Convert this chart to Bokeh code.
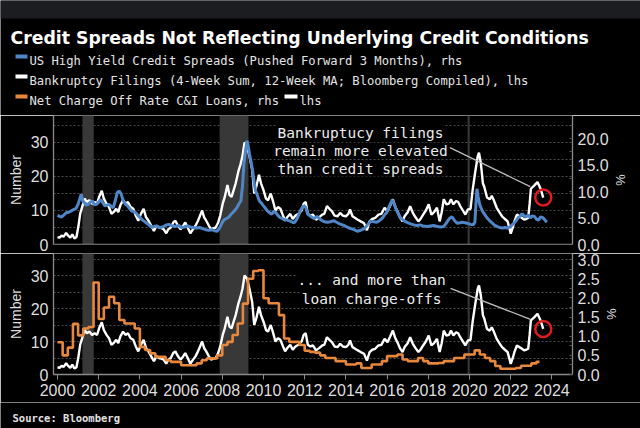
from bokeh.plotting import figure
from bokeh.models import (Range1d, LinearAxis, FixedTicker, Span, Label, BoxAnnotation,
                          Arrow, NumeralTickFormatter)
from bokeh.layouts import column
from bokeh.embed import file_html
from bokeh.resources import INLINE
from bokeh.core.properties import value

# ---------------- texts ----------------
TITLE = "Credit Spreads Not Reflecting Underlying Credit Conditions"
LEGEND_HY = "US High Yield Credit Spreads (Pushed Forward 3 Months), rhs"
LEGEND_BK = "Bankruptcy Filings (4-Week Sum, 12-Week MA; Bloomberg Compiled), lhs"
LEGEND_CO = "Net Charge Off Rate C&I Loans, rhs"
LEGEND_CO_LHS = "lhs"
SOURCE = "Source: Bloomberg"
NOTE_TOP = ["Bankruptucy filings", "remain more elevated", "than credit spreads"]
NOTE_BOTTOM = ["... and more than", "loan charge-offs"]

# ---------------- data ----------------
bk_year = [2000.00, 2000.10, 2000.20, 2000.30, 2000.42, 2000.52, 2000.62, 2000.72, 2000.82, 2000.92,
           2001.02, 2001.10, 2001.22, 2001.32, 2001.42, 2001.55, 2001.68, 2001.80, 2001.92, 2002.02,
           2002.15, 2002.25, 2002.38, 2002.50, 2002.62, 2002.72, 2002.85, 2002.95, 2003.05, 2003.18,
           2003.30, 2003.42, 2003.55, 2003.68, 2003.80, 2003.92, 2004.05, 2004.18, 2004.30, 2004.42,
           2004.55, 2004.68, 2004.80, 2004.92, 2005.05, 2005.15, 2005.28, 2005.38, 2005.50, 2005.62,
           2005.72, 2005.85, 2005.98, 2006.10, 2006.20, 2006.32, 2006.45, 2006.58, 2006.70, 2006.82,
           2006.92, 2007.02, 2007.12, 2007.22, 2007.35, 2007.45, 2007.58, 2007.68, 2007.80, 2007.90,
           2008.02, 2008.12, 2008.25, 2008.35, 2008.45, 2008.55, 2008.65, 2008.78, 2008.88, 2008.98,
           2009.08, 2009.20, 2009.32, 2009.45, 2009.55, 2009.65, 2009.78, 2009.88, 2010.00, 2010.12,
           2010.22, 2010.35, 2010.45, 2010.58, 2010.70, 2010.82, 2010.95, 2011.05, 2011.15, 2011.30,
           2011.42, 2011.55, 2011.70, 2011.85, 2011.95, 2012.05, 2012.15, 2012.28, 2012.40, 2012.55,
           2012.70, 2012.85, 2012.95, 2013.08, 2013.20, 2013.32, 2013.45, 2013.60, 2013.72, 2013.85,
           2014.00, 2014.12, 2014.20, 2014.32, 2014.45, 2014.58, 2014.72, 2014.88, 2015.02, 2015.15,
           2015.28, 2015.42, 2015.58, 2015.72, 2015.88, 2016.02, 2016.15, 2016.28, 2016.38, 2016.52,
           2016.62, 2016.75, 2016.85, 2017.00, 2017.12, 2017.25, 2017.38, 2017.52, 2017.62, 2017.75,
           2017.88, 2018.02, 2018.15, 2018.28, 2018.42, 2018.55, 2018.65, 2018.75, 2018.88, 2019.00,
           2019.10, 2019.22, 2019.35, 2019.45, 2019.55, 2019.68, 2019.80, 2019.92, 2020.05, 2020.15,
           2020.28, 2020.40, 2020.46, 2020.55, 2020.65, 2020.72, 2020.85, 2020.98, 2021.08, 2021.18,
           2021.32, 2021.45, 2021.58, 2021.72, 2021.85, 2021.95, 2022.00, 2022.10, 2022.18, 2022.30,
           2022.42, 2022.55, 2022.65, 2022.75, 2022.85, 2022.92, 2022.98, 2023.15, 2023.30, 2023.45,
           2023.58]
bk_filings = [2.2, 2.0, 2.6, 2.3, 3.4, 2.6, 2.0, 3.0, 1.8, 2.2,
              5.5, 9.0, 11.5, 13.5, 12.5, 13.0, 12.0, 12.5, 12.0, 14.0,
              15.8, 13.5, 12.0, 11.0, 9.0, 9.5, 10.5, 9.5, 11.5, 13.0,
              12.0, 12.5, 11.0, 10.5, 8.5, 7.0, 9.0, 10.5, 8.0, 7.0,
              5.5, 4.0, 5.5, 5.0, 4.8, 4.5, 3.3, 4.5, 5.0, 6.5,
              7.0, 5.5, 4.5, 5.5, 6.5, 5.0, 3.3, 4.5, 5.5, 7.0,
              8.5, 10.0, 8.0, 7.0, 5.5, 4.5, 4.8, 5.0, 6.5, 8.5,
              12.0, 14.0, 17.5, 14.5, 14.0, 16.0, 18.0, 21.5, 23.5, 26.0,
              30.0, 29.0, 26.0, 22.0, 15.0, 17.0, 20.5, 18.0, 16.0, 13.5,
              13.0, 15.0, 13.0, 10.0, 11.0, 10.5, 8.5, 7.0, 8.0, 9.0,
              7.5, 8.5, 9.0, 10.0, 12.0, 12.5, 9.0, 8.5, 8.8, 7.3,
              8.0, 8.8, 9.0, 11.3, 10.5, 9.8, 8.5, 8.3, 9.3, 8.5,
              8.3, 9.0, 10.3, 8.3, 7.8, 7.3, 6.8, 6.3, 4.2, 6.8,
              7.5, 7.8, 8.8, 9.0, 10.8, 9.8, 11.5, 13.3, 11.3, 9.5,
              8.0, 6.8, 8.3, 9.5, 11.3, 9.3, 8.0, 6.8, 7.5, 8.8,
              10.0, 11.8, 8.8, 9.5, 10.8, 6.8, 9.5, 13.3, 11.8, 12.0,
              13.3, 11.8, 12.8, 12.5, 11.3, 10.0, 8.8, 10.3, 10.5, 15.9,
              21.4, 26.0, 27.0, 24.0, 18.0, 16.9, 13.8, 13.3, 14.3, 13.0,
              10.8, 9.5, 8.3, 7.5, 6.8, 4.5, 3.2, 5.0, 6.8, 8.8,
              8.3, 7.8, 7.3, 7.5, 7.8, 12.0, 16.4, 17.4, 18.4, 16.4,
              13.8]

hy_year = [2000.00, 2000.10, 2000.20, 2000.32, 2000.42, 2000.55, 2000.65, 2000.78, 2000.90, 2001.00,
           2001.08, 2001.15, 2001.22, 2001.30, 2001.40, 2001.50, 2001.60, 2001.70, 2001.80, 2001.90,
           2002.00, 2002.10, 2002.20, 2002.30, 2002.40, 2002.50, 2002.60, 2002.70, 2002.80, 2002.90,
           2003.00, 2003.08, 2003.20, 2003.30, 2003.40, 2003.50, 2003.60, 2003.70, 2003.80, 2003.90,
           2004.00, 2004.10, 2004.20, 2004.30, 2004.40, 2004.50, 2004.60, 2004.70, 2004.80, 2004.90,
           2005.00, 2005.10, 2005.20, 2005.30, 2005.40, 2005.50, 2005.60, 2005.70, 2005.80, 2005.90,
           2006.00, 2006.15, 2006.30, 2006.45, 2006.60, 2006.75, 2006.90, 2007.05, 2007.20, 2007.35,
           2007.50, 2007.62, 2007.75, 2007.85, 2007.92, 2008.00, 2008.10, 2008.20, 2008.30, 2008.40,
           2008.50, 2008.60, 2008.70, 2008.80, 2008.90, 2008.98, 2009.05, 2009.12, 2009.20, 2009.26,
           2009.32, 2009.40, 2009.47, 2009.55, 2009.62, 2009.70, 2009.80, 2009.90, 2010.00, 2010.10,
           2010.20, 2010.30, 2010.40, 2010.50, 2010.60, 2010.70, 2010.80, 2010.90, 2011.00, 2011.15,
           2011.30, 2011.40, 2011.50, 2011.62, 2011.75, 2011.85, 2011.95, 2012.05, 2012.15, 2012.30,
           2012.45, 2012.60, 2012.80, 2012.95, 2013.10, 2013.25, 2013.40, 2013.55, 2013.70, 2013.90,
           2014.10, 2014.25, 2014.40, 2014.55, 2014.72, 2014.90, 2015.05, 2015.20, 2015.35, 2015.50,
           2015.62, 2015.75, 2015.88, 2015.98, 2016.10, 2016.25, 2016.35, 2016.45, 2016.55, 2016.65,
           2016.78, 2016.90, 2017.02, 2017.15, 2017.30, 2017.45, 2017.60, 2017.75, 2017.95, 2018.10,
           2018.25, 2018.45, 2018.60, 2018.75, 2018.85, 2018.95, 2019.05, 2019.15, 2019.28, 2019.40,
           2019.55, 2019.65, 2019.78, 2019.90, 2020.05, 2020.18, 2020.26, 2020.32, 2020.36, 2020.42,
           2020.50, 2020.60, 2020.68, 2020.80, 2020.90, 2021.00, 2021.12, 2021.22, 2021.35, 2021.45,
           2021.60, 2021.72, 2021.85, 2021.95, 2022.05, 2022.15, 2022.25, 2022.35, 2022.45, 2022.55,
           2022.65, 2022.75, 2022.85, 2022.95, 2023.05, 2023.15, 2023.25, 2023.35, 2023.45, 2023.55,
           2023.65, 2023.75]
hy_spread = [5.5, 5.3, 5.2, 5.6, 6.0, 6.1, 6.3, 6.6, 6.8, 7.6,
             8.6, 9.5, 8.3, 7.9, 7.4, 7.6, 8.0, 8.2, 7.5, 7.6,
             8.0, 8.5, 7.9, 7.3, 7.4, 7.6, 7.2, 6.9, 8.2, 9.8,
             10.1, 9.6, 8.2, 7.6, 7.3, 6.8, 6.3, 6.2, 6.0, 5.5,
             5.1, 4.7, 4.4, 4.1, 3.8, 3.5, 3.2, 3.4, 3.5, 3.3,
             3.2, 3.3, 3.5, 3.7, 3.8, 3.6, 3.5, 3.4, 3.5, 3.6,
             3.2, 3.3, 3.5, 3.3, 3.2, 3.1, 3.2, 3.0, 2.8, 2.7,
             2.8, 2.6, 2.5, 3.0, 3.5, 4.2, 4.7, 4.9, 5.1, 5.6,
             6.0, 6.4, 6.9, 7.6, 8.2, 11.0, 15.2, 17.5, 19.6, 18.5,
             17.1, 15.5, 14.0, 11.5, 10.1, 9.3, 8.2, 7.8, 7.3, 6.8,
             6.3, 6.0, 5.7, 6.3, 6.0, 5.5, 5.1, 4.9, 4.7, 4.6,
             4.4, 4.2, 4.1, 4.8, 6.0, 6.8, 7.3, 7.0, 5.7, 5.3,
             4.9, 5.3, 4.6, 4.3, 4.2, 4.3, 4.5, 4.2, 3.9, 3.6,
             3.2, 3.0, 2.8, 2.5, 2.7, 3.0, 3.7, 4.4, 4.3, 4.2,
             4.5, 4.9, 5.6, 6.0, 7.2, 8.4, 7.6, 6.5, 5.8, 5.0,
             4.6, 4.3, 4.1, 3.9, 3.7, 3.6, 3.7, 3.5, 3.4, 3.5,
             3.6, 3.4, 3.3, 3.4, 3.9, 4.5, 5.0, 5.2, 4.5, 4.0,
             4.1, 4.2, 4.1, 4.0, 3.8, 3.7, 4.2, 8.0, 10.5, 9.0,
             7.5, 6.5, 6.0, 5.3, 4.8, 4.4, 4.0, 3.6, 3.4, 3.2,
             3.1, 3.2, 3.1, 3.3, 3.6, 4.0, 4.4, 5.0, 5.3, 5.8,
             5.4, 5.2, 5.6, 5.0, 5.4, 5.3, 4.8, 4.6, 5.2, 5.1,
             4.7, 4.2]

co_quarter = [2000.00, 2000.25, 2000.50, 2000.75, 2001.00, 2001.25, 2001.50, 2001.75,
              2002.00, 2002.25, 2002.50, 2002.75, 2003.00, 2003.25, 2003.50, 2003.75,
              2004.00, 2004.25, 2004.50, 2004.75, 2005.00, 2005.25, 2005.50, 2005.75,
              2006.00, 2006.25, 2006.50, 2006.75, 2007.00, 2007.25, 2007.50, 2007.75,
              2008.00, 2008.25, 2008.50, 2008.75, 2009.00, 2009.25, 2009.50, 2009.75,
              2010.00, 2010.25, 2010.50, 2010.75, 2011.00, 2011.25, 2011.50, 2011.75,
              2012.00, 2012.25, 2012.50, 2012.75, 2013.00, 2013.25, 2013.50, 2013.75,
              2014.00, 2014.25, 2014.50, 2014.75, 2015.00, 2015.25, 2015.50, 2015.75,
              2016.00, 2016.25, 2016.50, 2016.75, 2017.00, 2017.25, 2017.50, 2017.75,
              2018.00, 2018.25, 2018.50, 2018.75, 2019.00, 2019.25, 2019.50, 2019.75,
              2020.00, 2020.25, 2020.50, 2020.75, 2021.00, 2021.25, 2021.50, 2021.75,
              2022.00, 2022.25, 2022.50, 2022.75, 2023.00, 2023.25, 2023.40]
co_rate = [0.84, 0.50, 0.70, 1.32, 1.02, 1.20, 1.24, 2.40,
           1.45, 1.75, 2.03, 1.86, 1.42, 1.33, 1.33, 1.20,
           0.72, 0.64, 0.55, 0.46, 0.46, 0.37, 0.33, 0.33,
           0.24, 0.24, 0.24, 0.29, 0.37, 0.42, 0.42, 0.50,
           0.77, 0.85, 1.03, 1.33, 1.85, 2.50, 2.70, 2.72,
           1.99, 1.86, 1.86, 1.55, 0.94, 0.85, 0.85, 0.77,
           0.62, 0.59, 0.57, 0.50, 0.43, 0.43, 0.35, 0.35,
           0.26, 0.26, 0.29, 0.17, 0.17, 0.26, 0.26, 0.35,
           0.48, 0.48, 0.52, 0.39, 0.35, 0.35, 0.43, 0.35,
           0.29, 0.29, 0.30, 0.35, 0.35, 0.43, 0.43, 0.52,
           0.52, 0.63, 0.52, 0.43, 0.35, 0.22, 0.15, 0.15,
           0.15, 0.17, 0.23, 0.23, 0.29, 0.33, 0.33]

recession_start = [2001.21, 2007.87, 2019.91]
recession_end = [2001.76, 2009.27, 2020.01]

left_ticks = [0, 10, 20, 30]
grid_ticks = [5, 10, 15, 20, 25, 30, 35]
hy_ticks = [0, 5, 10, 15, 20]
co_ticks = [0, 0.5, 1.0, 1.5, 2.0, 2.5, 3.0]
year_ticks = [2000, 2002, 2004, 2006, 2008, 2010, 2012, 2014, 2016, 2018, 2020, 2022, 2024]

# ---------------- styles ----------------
BLUE = "#4f86c8"
WHITE = "#ffffff"
ORANGE = "#e8883c"
BG = "black"
AXIS = "#8a8a8a"
GRID = "#4d4d4d"
TICK_TXT = "#dedede"
SHADE = "#383838"
RED = "#e01b1b"
MONO = "DejaVu Sans Mono"
TICK_FONT = "Liberation Sans"

X_START, X_END = 1999.806, 2025.0


def unalign(p):
    if "frame_align" in p.properties():
        p.frame_align = False


def base_panel(height, bottom_border, y_end, x_axis):
    p = figure(width=640, height=height, x_range=Range1d(X_START, X_END),
               y_range=Range1d(0, y_end),
               x_axis_location="below" if x_axis else None, y_axis_location="left",
               min_border_left=53, min_border_right=68, min_border_top=0,
               min_border_bottom=bottom_border,
               output_backend="svg", toolbar_location=None,
               background_fill_color=BG, border_fill_color=BG, outline_line_color=None)
    unalign(p)
    p.xgrid.visible = False
    p.ygrid.ticker = FixedTicker(ticks=grid_ticks)
    p.ygrid.grid_line_color = GRID
    p.ygrid.grid_line_dash = "2 2"
    p.ygrid.grid_line_width = 1
    ya = p.yaxis[0]
    ya.ticker = FixedTicker(ticks=left_ticks)
    ya.axis_line_color = AXIS
    ya.axis_line_width = 1.3
    ya.major_tick_line_color = None
    ya.major_tick_in = 0
    ya.major_tick_out = 0
    ya.minor_tick_line_color = None
    ya.minor_tick_in = 0
    ya.minor_tick_out = 0
    ya.major_label_text_color = TICK_TXT
    ya.major_label_text_font = TICK_FONT
    ya.major_label_text_font_size = "16px"
    ya.major_label_standoff = 5
    ya.axis_label = "Number"
    ya.axis_label_text_font = TICK_FONT
    ya.axis_label_text_font_style = "normal"
    ya.axis_label_text_font_size = "14px"
    ya.axis_label_text_color = TICK_TXT
    ya.axis_label_standoff = 4
    for s, e in zip(recession_start, recession_end):
        p.add_layout(BoxAnnotation(left=s, right=e, fill_color=SHADE, fill_alpha=1.0,
                                   line_color=None, level="underlay"))
    return p


def right_axis(p, name, end, ticks, minor):
    p.extra_y_ranges = {name: Range1d(0, end)}
    ax = LinearAxis(y_range_name=name, ticker=FixedTicker(ticks=ticks, minor_ticks=minor),
                    formatter=NumeralTickFormatter(format="0.0"), axis_label="%")
    ax.axis_line_color = AXIS
    ax.axis_line_width = 1.3
    ax.major_tick_line_color = "#555555"
    ax.major_tick_in = 3
    ax.major_tick_out = 0
    ax.minor_tick_line_color = "#555555"
    ax.minor_tick_in = 3
    ax.minor_tick_out = 0
    ax.major_label_text_color = TICK_TXT
    ax.major_label_text_font = TICK_FONT
    ax.major_label_text_font_size = "16px"
    ax.major_label_standoff = 5
    ax.axis_label_text_font = TICK_FONT
    ax.axis_label_text_font_style = "normal"
    ax.axis_label_text_font_size = "13px"
    ax.axis_label_text_color = TICK_TXT
    ax.axis_label_standoff = 1
    p.add_layout(ax, "right")


def note(p, xs, ys, lines):
    for y, t in zip(ys, lines):
        p.add_layout(Label(x=xs, y=y, text=t, text_align="center", text_baseline="middle",
                           text_font=MONO, text_font_size="14.5px", text_color="#ececec",
                           background_fill_color=BG))


def blank(height):
    p = figure(width=640, height=height, x_range=Range1d(0, 640), y_range=Range1d(height, 0),
               x_axis_location=None, y_axis_location=None, min_border=0,
               output_backend="svg", toolbar_location=None,
               background_fill_color=BG, border_fill_color=BG, outline_line_color=None)
    unalign(p)
    p.xgrid.visible = False
    p.ygrid.visible = False
    return p


# ---------------- header ----------------
hdr = blank(115)
hdr.quad(left=[0], right=[640], top=[0], bottom=[18], fill_color="#1b1d21", line_color=None)
hdr.text(x=[10], y=[37.5], text=[TITLE], text_font=value("DejaVu Sans"), text_font_style="bold",
         text_font_size="17.3px", text_color="white", text_baseline="alphabetic")
hdr.segment(x0=[15, 15, 15, 284], x1=[27, 27, 27, 297], y0=[56, 76, 96, 96], y1=[56, 76, 96, 96],
            line_color=[BLUE, WHITE, ORANGE, WHITE], line_width=4)
hdr.text(x=[29, 29, 29, 299], y=[60.4, 80.4, 100.4, 100.4],
         text=[LEGEND_HY, LEGEND_BK, LEGEND_CO, LEGEND_CO_LHS],
         text_font=value(MONO), text_font_size="12.2px", text_color="#e4e4e4",
         text_baseline="alphabetic")

# ---------------- top panel ----------------
top = base_panel(138, 9, 37.94, False)
right_axis(top, "hy", 24.34, hy_ticks, [2.5, 7.5, 12.5, 17.5, 22.5])
top.add_layout(Span(location=0, dimension="width", line_color=AXIS, line_width=1.3))
top.line(bk_year, bk_filings, line_color=WHITE, line_width=2.4)
top.line(hy_year, hy_spread, y_range_name="hy", line_color=BLUE, line_width=3)
note(top, 2014.71, [32.9, 27.6, 22.35], NOTE_TOP)
top.add_layout(Arrow(end=None, x_start=2019.05, y_start=28.5, x_end=2022.95, y_end=17.0,
                     line_color="#bdbdbd", line_width=1.3))
top.scatter([bk_year[-1]], [bk_filings[-1]], marker="circle", size=16, fill_color=None,
            line_color=RED, line_width=2.5)

# ---------------- bottom panel ----------------
bot = base_panel(149, 28, 36.67, True)
right_axis(bot, "co", 3.157, co_ticks, [0.25, 0.75, 1.25, 1.75, 2.25, 2.75])
xa = bot.xaxis[0]
xa.ticker = FixedTicker(ticks=year_ticks)
xa.axis_line_color = AXIS
xa.axis_line_width = 1.3
xa.major_tick_line_color = AXIS
xa.major_tick_in = 0
xa.major_tick_out = 5
xa.minor_tick_line_color = None
xa.minor_tick_in = 0
xa.minor_tick_out = 0
xa.major_label_text_color = TICK_TXT
xa.major_label_text_font = TICK_FONT
xa.major_label_text_font_size = "16px"
xa.major_label_standoff = 4
bot.line(bk_year, bk_filings, line_color=WHITE, line_width=2.4)
bot.step(co_quarter, co_rate, mode="after", y_range_name="co", line_color=ORANGE, line_width=2.6)
note(bot, 2015.25, [28.5, 23.0], NOTE_BOTTOM)
bot.add_layout(Arrow(end=None, x_start=2019.08, y_start=26.1, x_end=2022.96, y_end=16.7,
                     line_color="#bdbdbd", line_width=1.3))
bot.scatter([bk_year[-1]], [bk_filings[-1]], marker="circle", size=16, fill_color=None,
            line_color=RED, line_width=2.5)

# ---------------- footer ----------------
ftr = blank(26)
ftr.text(x=[12], y=[15], text=[SOURCE], text_font=value(MONO), text_font_style="bold",
         text_font_size="10.5px", text_color="#e0e0e0", text_baseline="middle")

layout = column(hdr, top, bot, ftr, spacing=0)
open("out.html", "w").write(file_html(layout, INLINE))
